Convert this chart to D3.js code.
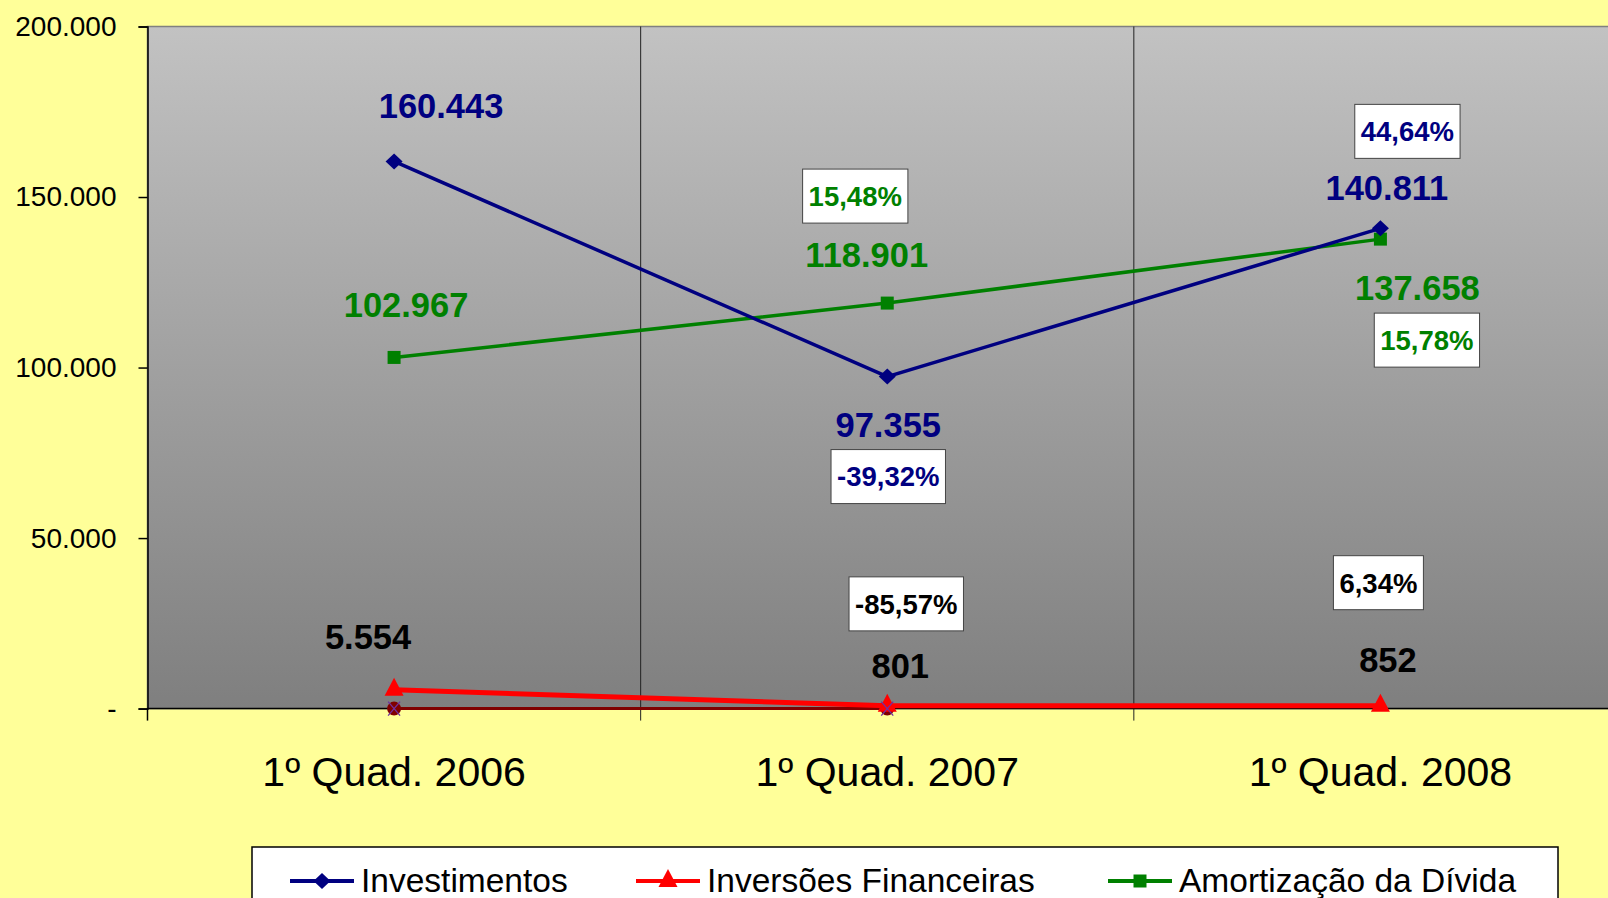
<!DOCTYPE html>
<html>
<head>
<meta charset="utf-8">
<script src="https://cdn.jsdelivr.net/npm/d3@7"></script>
<style>
  body { margin: 0; background: #FFFF99; overflow: hidden; }
  svg { display: block; font-family: "Liberation Sans", Arial, sans-serif; }
</style>
</head>
<body>
<svg width="1608" height="898"></svg>
<script>
// data
var categories = ["1º Quad. 2006", "1º Quad. 2007", "1º Quad. 2008"];
var investimentos = [160443, 97355, 140811];
var inversoes = [5554, 801, 852];
var amortizacao = [102967, 118901, 137658];
var zeroSerie = [0, 0, null];
var pctInvestimentos = [null, "-39,32%", "44,64%"];
var pctInversoes = [null, "-85,57%", "6,34%"];
var pctAmortizacao = [null, "15,48%", "15,78%"];
var yTicks = [0, 50000, 100000, 150000, 200000];

var svg = d3.select("svg"),
    margin = { top: 26.5, left: 147.5 },
    plotRight = 1627, zeroY = 708.6;

var br = d3.formatLocale({ decimal: ",", thousands: ".", grouping: [3], currency: ["R$", ""] });
var fmt = br.format(",.0f");

var x = d3.scaleBand().domain(categories).range([margin.left, plotRight]);
var y = d3.scaleLinear().domain([0, 200000]).range([zeroY, margin.top]);
var cx = function (i) { return x(categories[i]) + x.bandwidth() / 2; };

// plot area gradient
var grad = svg.append("defs").append("linearGradient")
    .attr("id", "bg").attr("x1", 0).attr("y1", 0).attr("x2", 0).attr("y2", 1);
grad.append("stop").attr("offset", "0%").attr("stop-color", "#c2c2c2");
grad.append("stop").attr("offset", "100%").attr("stop-color", "#7f7f7f");

svg.append("rect")
    .attr("x", margin.left).attr("y", margin.top)
    .attr("width", plotRight - margin.left).attr("height", zeroY - margin.top)
    .attr("fill", "url(#bg)")
    .attr("stroke", "#808080").attr("stroke-width", 1.5);

// vertical grid at category boundaries
svg.selectAll(".vgrid")
    .data(categories.slice(1))
    .enter().append("line")
    .attr("class", "vgrid")
    .attr("x1", function (d) { return x(d); }).attr("x2", function (d) { return x(d); })
    .attr("y1", margin.top).attr("y2", zeroY + 12)
    .attr("stroke", "#222").attr("stroke-width", 1);

// y axis
var yAxis = d3.axisLeft(y).tickValues(yTicks).tickSize(9).tickPadding(22)
    .tickFormat(function (d) { return d === 0 ? "-" : fmt(d); });
var gy = svg.append("g").attr("transform", "translate(" + margin.left + ",0)").call(yAxis);
gy.select(".domain").attr("stroke", "#000").attr("stroke-width", 1.5);
gy.selectAll(".tick line").attr("stroke", "#000").attr("stroke-width", 1.5);
gy.selectAll(".tick text").attr("font-size", 28).attr("fill", "#000")
    .attr("font-family", "Liberation Sans, Arial, sans-serif");

// x axis line + boundary ticks
svg.append("line")
    .attr("x1", margin.left).attr("x2", plotRight).attr("y1", zeroY).attr("y2", zeroY)
    .attr("stroke", "#000").attr("stroke-width", 1.5);
svg.append("line")
    .attr("x1", margin.left).attr("x2", margin.left).attr("y1", zeroY).attr("y2", zeroY + 12)
    .attr("stroke", "#000").attr("stroke-width", 1.5);
svg.selectAll(".xlab")
    .data(categories)
    .enter().append("text")
    .attr("class", "xlab")
    .attr("x", function (d, i) { return cx(i); })
    .attr("y", 786)
    .attr("text-anchor", "middle")
    .attr("font-size", 41)
    .text(function (d) { return d; });

// marker shapes
var diamond = { draw: function (c, s) { var w = 8.5, h = 8; c.moveTo(0, -h); c.lineTo(w, 0); c.lineTo(0, h); c.lineTo(-w, 0); c.closePath(); } };
var square = { draw: function (c, s) { var r = 6.5; c.rect(-r, -r, 2 * r, 2 * r); } };
var triangle = { draw: function (c, s) { c.moveTo(0, -12); c.lineTo(9.5, 6); c.lineTo(-9.5, 6); c.closePath(); } };
var circle = { draw: function (c, s) { c.moveTo(7, 0); c.arc(0, 0, 7, 0, 2 * Math.PI); } };

var series = [
  { name: "Zero", values: zeroSerie, color: "#800000", width: 3, shape: circle },
  { name: "Amortização da Dívida", values: amortizacao, color: "#008000", width: 3.5, shape: square },
  { name: "Investimentos", values: investimentos, color: "#000080", width: 3.5, shape: diamond },
  { name: "Inversões Financeiras", values: inversoes, color: "#FF0000", width: 5, shape: triangle }
];

var line = d3.line()
    .defined(function (d) { return d != null; })
    .x(function (d, i) { return cx(i); })
    .y(function (d) { return y(d); });

series.forEach(function (s) {
  svg.append("path")
      .datum(s.values)
      .attr("fill", "none")
      .attr("stroke", s.color)
      .attr("stroke-width", s.width)
      .attr("d", line);
  svg.selectAll(null)
      .data(s.values.map(function (v, i) { return { v: v, i: i }; }).filter(function (d) { return d.v != null; }))
      .enter().append("path")
      .attr("transform", function (d) { return "translate(" + cx(d.i) + "," + y(d.v) + ")"; })
      .attr("d", d3.symbol().type(s.shape))
      .attr("fill", s.color);
});

// purple x marks on the zero series
svg.selectAll(".xm")
    .data(zeroSerie.map(function (v, i) { return { v: v, i: i }; }).filter(function (d) { return d.v != null; }))
    .enter().append("path")
    .attr("class", "xm")
    .attr("transform", function (d) { return "translate(" + cx(d.i) + "," + y(d.v) + ")"; })
    .attr("d", "M-6,-7L6,7M6,-7L-6,7")
    .attr("stroke", "#7030a0").attr("stroke-width", 1.3);

// value labels (offsets relative to the point)
var valueOffsets = {
  inv: [[47, -56], [1, 48], [6.5, -41]],
  amo: [[12, -53], [-20.5, -49], [37, 48]],
  ifn: [[-26, -53], [13, -40], [7.5, -46]]
};
var pctOffsets = {
  inv: [null, [1, 100], [27, -97]],
  amo: [null, [-32, -107], [46.5, 101]],
  ifn: [null, [19, -102], [-2, -123]]
};
var labelSets = [
  { key: "inv", values: investimentos, pct: pctInvestimentos, color: "#000080" },
  { key: "amo", values: amortizacao, pct: pctAmortizacao, color: "#008000" },
  { key: "ifn", values: inversoes, pct: pctInversoes, color: "#000000" }
];

labelSets.forEach(function (s) {
  s.values.forEach(function (v, i) {
    var o = valueOffsets[s.key][i];
    svg.append("text")
        .attr("x", cx(i) + o[0])
        .attr("y", y(v) + o[1])
        .attr("dy", "0.36em")
        .attr("text-anchor", "middle")
        .attr("font-size", 34.5)
        .attr("font-weight", "bold")
        .attr("fill", s.color)
        .text(fmt(v));
    if (s.pct[i] == null) return;
    var p = pctOffsets[s.key][i];
    var g = svg.append("g").attr("transform", "translate(" + (cx(i) + p[0]) + "," + (y(v) + p[1]) + ")");
    var rect = g.append("rect");
    var t = g.append("text")
        .attr("dy", "0.36em")
        .attr("text-anchor", "middle")
        .attr("font-size", 27.5)
        .attr("font-weight", "bold")
        .attr("fill", s.color)
        .text(s.pct[i]);
    var w = t.node().getComputedTextLength() + 12;
    rect.attr("x", -w / 2).attr("y", -27).attr("width", w).attr("height", 54)
        .attr("fill", "#fff").attr("stroke", "#444").attr("stroke-width", 1);
  });
});

// legend
var legendItems = [
  { name: "Investimentos", color: "#000080", shape: diamond, x: 290 },
  { name: "Inversões Financeiras", color: "#FF0000", shape: triangle, x: 636 },
  { name: "Amortização da Dívida", color: "#008000", shape: square, x: 1108 }
];
var lg = svg.append("g");
lg.append("rect")
    .attr("x", 252).attr("y", 847).attr("width", 1306).attr("height", 100)
    .attr("fill", "#fff").attr("stroke", "#000").attr("stroke-width", 1.5);
legendItems.forEach(function (d) {
  lg.append("line")
      .attr("x1", d.x).attr("x2", d.x + 64).attr("y1", 881).attr("y2", 881)
      .attr("stroke", d.color).attr("stroke-width", 4);
  lg.append("path")
      .attr("transform", "translate(" + (d.x + 32) + ",881)")
      .attr("d", d3.symbol().type(d.shape))
      .attr("fill", d.color);
  lg.append("text")
      .attr("x", d.x + 71).attr("y", 880)
      .attr("dy", "0.36em")
      .attr("font-size", 33.5)
      .text(d.name);
});
</script>
</body>
</html>
